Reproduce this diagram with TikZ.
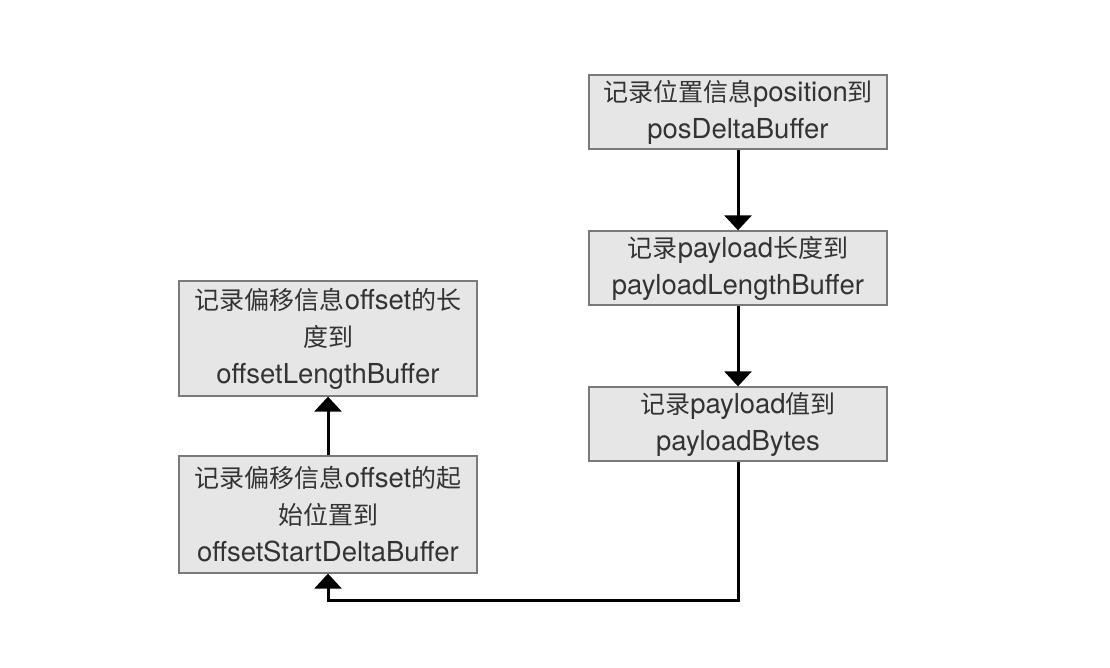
\documentclass[tikz,border=0pt]{standalone}
\usepackage{fontspec}
\setmainfont{TeX Gyre Heros}[Scale=1.1]
\newfontfamily\cjk{Noto Sans CJK SC}
\usetikzlibrary{arrows.meta}
\definecolor{boxfill}{HTML}{E6E6E6}
\definecolor{boxdraw}{HTML}{7A7A7A}
\definecolor{txt}{HTML}{333333}
\tikzset{
  stepbox/.style={draw=boxdraw, fill=boxfill, line width=1.3pt, minimum width=298pt, inner sep=0pt,
    align=center, text=txt, font=\fontsize{25}{37}\selectfont},
  flow/.style={line width=3pt, -{Triangle[width=27pt,length=15pt]}}
}
\begin{document}
\begin{tikzpicture}[x=1pt,y=-1pt]
\useasboundingbox (0,0) rectangle (1110,668);
\node[stepbox, minimum height=74pt] (A) at (738,112) {{\cjk 记录位置信息}position{\cjk 到}\\posDeltaBuffer};
\node[stepbox, minimum height=74pt] (B) at (738,268) {{\cjk 记录}payload{\cjk 长度到}\\payloadLengthBuffer};
\node[stepbox, minimum height=74pt] (C) at (738,424) {{\cjk 记录}payload{\cjk 值到}\\payloadBytes};
\node[stepbox, minimum height=115pt] (D) at (328,338.5) {{\cjk 记录偏移信息}offset{\cjk 的长}\\{\cjk 度到}\\offsetLengthBuffer};
\node[stepbox, minimum height=117pt] (E) at (328,514.5) {{\cjk 记录偏移信息}offset{\cjk 的起}\\{\cjk 始位置到}\\offsetStartDeltaBuffer};
\coordinate (c1) at (738,600);
\coordinate (c2) at (328,600);
\draw[flow] (A) -- (B);
\draw[flow] (B) -- (C);
\draw[flow] (C.south) -- (c1) -- (c2) -- (E.south);
\draw[flow] (E) -- (D);
\end{tikzpicture}
\end{document}
